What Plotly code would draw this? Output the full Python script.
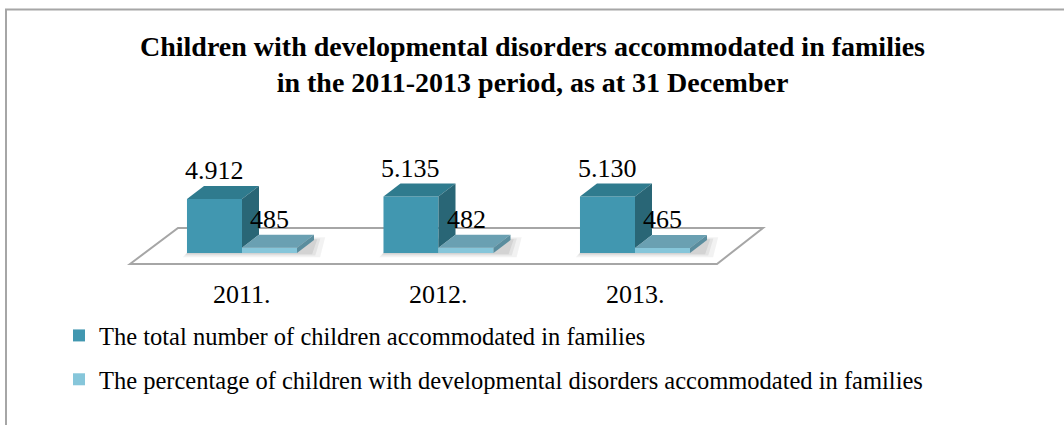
import plotly.graph_objects as go

# Data
years = ["2011.", "2012.", "2013."]
total_children = [4912, 5135, 5130]
disorder_children = [485, 482, 465]
series_names = [
    "The total number of children accommodated in families",
    "The percentage of children with developmental disorders accommodated in families",
]

# Figure / geometry settings
W, H = 1064, 425
PX_PER_CAT = 196.5          # horizontal pixels per category step
CAT0_PX = 242               # pixel x of first category centre
BASE_PX = 253               # pixel y of value 0
VAL_PER_PX = 4912 / 54.0    # value units per vertical pixel

x_lo = -CAT0_PX / PX_PER_CAT
x_hi = x_lo + W / PX_PER_CAT
y_hi = BASE_PX * VAL_PER_PX
y_lo = -(H - BASE_PX) * VAL_PER_PX

BAR_W = 0.28
DX = 17 / PX_PER_CAT        # depth offset in x units
DY = 13 * VAL_PER_PX        # depth offset in value units

FONT = "Liberation Serif, Times New Roman, serif"

BIG_FRONT, BIG_TOP, BIG_SIDE = "#4197b0", "#2f7b8e", "#296676"
SM_FRONT, SM_TOP, SM_SIDE = "#86c6da", "#6aa0b2", "#5a8d9e"

xs = list(range(len(years)))


def fmt(v):
    return f"{v:,}".replace(",", ".")


def px_x(p):
    return x_lo + p / PX_PER_CAT


def px_y(p):
    return (BASE_PX - p) * VAL_PER_PX


fig = go.Figure()

# front faces
fig.add_trace(go.Bar(
    x=xs, y=total_children, width=BAR_W, offset=-BAR_W,
    marker=dict(color=BIG_FRONT, line=dict(width=0)),
    name=series_names[0], legendgroup="a", hoverinfo="skip",
))
fig.add_trace(go.Bar(
    x=xs, y=disorder_children, width=BAR_W, offset=0,
    marker=dict(color=SM_FRONT, line=dict(width=0)),
    name=series_names[1], legendgroup="b", hoverinfo="skip",
))


def poly(px, py, color):
    fig.add_trace(go.Scatter(
        x=px + [px[0]], y=py + [py[0]], mode="lines", fill="toself",
        fillcolor=color, line=dict(width=0, color=color),
        showlegend=False, hoverinfo="skip",
    ))


for x, v, s in zip(xs, total_children, disorder_children):
    # tall bar: top and right side (side hidden below the short bar's top)
    l, r = x - BAR_W, x
    poly([l, l + DX, r + DX, r], [v, v + DY, v + DY, v], BIG_TOP)
    poly([r, r, r + DX, r + DX], [s, v, v + DY, s + DY], BIG_SIDE)
    # short bar: top and right side
    l2, r2 = x, x + BAR_W
    poly([l2, l2 + DX, r2 + DX, r2], [s, s + DY, s + DY, s], SM_TOP)
    poly([r2, r2, r2 + DX, r2 + DX], [0, s, s + DY, DY], SM_SIDE)

LABEL_FONT = dict(family=FONT, size=26, color="#000")

# value labels above each bar, category labels under the floor
annotations = []
for x, v, s in zip(xs, total_children, disorder_children):
    annotations.append(dict(x=x - BAR_W / 2, y=v + DY, text=fmt(v), showarrow=False,
                            xref="x", yref="y", yanchor="bottom", yshift=-1,
                            font=LABEL_FONT))
    annotations.append(dict(x=x + BAR_W / 2, y=s + DY, text=fmt(s), showarrow=False,
                            xref="x", yref="y", yanchor="bottom", yshift=-1,
                            font=LABEL_FONT))
    annotations.append(dict(x=x, y=px_y(294), text=years[x],
                            showarrow=False, xref="x", yref="y", yanchor="middle",
                            font=LABEL_FONT))

annotations.append(dict(
    x=0.5, y=1 - 64 / H, xref="paper", yref="paper", showarrow=False,
    xanchor="center", yanchor="middle",
    text="<b>Children with developmental disorders accommodated in families</b><br>"
         "<b>in the 2011-2013 period, as at 31 December</b>",
    font=dict(family=FONT, size=28, color="#000"), align="center",
))

shapes = [
    # floor
    dict(type="path", xref="x", yref="y", layer="below",
         path=f"M{px_x(130)},{px_y(264)} L{px_x(178)},{px_y(228)} "
              f"L{px_x(763)},{px_y(228)} L{px_x(717)},{px_y(264)} Z",
         fillcolor="white", line=dict(color="#a6a6a6", width=2)),
    # chart frame
    dict(type="rect", xref="paper", yref="paper",
         x0=6 / W, x1=1.02, y0=-0.02, y1=1 - 9.5 / H,
         line=dict(color="#a6a6a6", width=2), layer="below"),
]

# soft shadows cast on the floor by each pair of bars
for x in xs:
    for grow, alpha in [(7, 0.05), (4, 0.06), (2, 0.07)]:
        gx = grow / PX_PER_CAT
        gy = grow * VAL_PER_PX
        l, r = x - BAR_W - gx * 0.6, x + BAR_W + DX + gx * 1.6
        shapes.append(dict(
            type="path", xref="x", yref="y", layer="below",
            path=f"M{l},{-gy * 0.6} L{l + DX},{DY + gy * 0.4} "
                 f"L{r},{DY + gy * 0.4} L{r - DX * 0.3},{-gy * 0.6} Z",
            fillcolor=f"rgba(0,0,0,{alpha})", line=dict(width=0)))

fig.update_layout(
    width=W, height=H, margin=dict(l=0, r=0, t=0, b=0),
    paper_bgcolor="white", plot_bgcolor="white",
    barmode="overlay", showlegend=True,
    xaxis=dict(range=[x_lo, x_hi], visible=False, fixedrange=True),
    yaxis=dict(range=[y_lo, y_hi], visible=False, fixedrange=True),
    annotations=annotations, shapes=shapes,
    legend=dict(x=59 / W, y=1 - 313 / H, xanchor="left", yanchor="top",
                font=dict(family=FONT, size=24.5, color="#000"),
                tracegroupgap=9, bgcolor="rgba(0,0,0,0)"),
    font=dict(family=FONT),
)

fig.write_html("out.html")
